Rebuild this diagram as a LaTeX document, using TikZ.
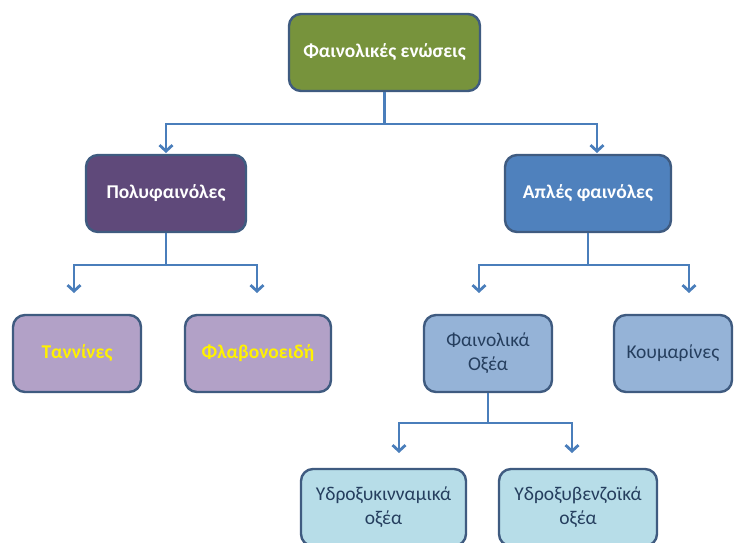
\documentclass[tikz,border=0pt]{standalone}
\usepackage{fontspec}
\setmainfont{Carlito}
\usetikzlibrary{arrows.meta}
\definecolor{rim}{HTML}{3F5B80}
\definecolor{wire}{HTML}{4A7EBB}
\definecolor{olive}{HTML}{77933C}
\definecolor{plum}{HTML}{5F497A}
\definecolor{steel}{HTML}{4F81BD}
\definecolor{lilac}{HTML}{B2A1C7}
\definecolor{sky}{HTML}{95B3D7}
\definecolor{ice}{HTML}{B7DDE8}
\definecolor{ink}{HTML}{253E5E}
\begin{document}
\begin{tikzpicture}[x=1pt,y=1pt,
  box/.style={draw=rim,line width=2.4pt,rounded corners=12pt,inner sep=0pt,
    minimum height=77pt,align=center,font=\fontsize{19.5}{24}\selectfont},
  lvlA/.style={box,fill=#1,text=white,font=\fontsize{19.5}{24}\selectfont\bfseries},
  lvlB/.style={box,fill=lilac,text=yellow,font=\fontsize{19.5}{24}\selectfont\bfseries},
  lvlC/.style={box,fill=#1,text=ink},
  link/.style={draw=wire,line width=2.8pt,-{Straight Barb[length=6pt,width=13pt]}}]
\clip (0,0) rectangle (734,542);
%% nodes
\node[lvlA=olive,minimum width=191pt] (top) at (384.5,489.5) {Φαινολικές ενώσεις};
\node[lvlA=plum,minimum width=160pt] (poly) at (166,348.5) {Πολυφαινόλες};
\node[lvlA=steel,minimum width=166pt] (aples) at (588,348.5) {Απλές φαινόλες};
\node[lvlB,minimum width=128pt] (tann) at (77,188.5) {Ταννίνες};
\node[lvlB,minimum width=146pt] (flav) at (258,188.5) {Φλαβονοειδή};
\node[lvlC=sky,minimum width=128pt] (fox) at (488,188.5) {Φαινολικά\\Οξέα};
\node[lvlC=sky,minimum width=118pt] (koum) at (673,188.5) {Κουμαρίνες};
\node[lvlC=ice,minimum width=165pt] (ykin) at (383.5,34.5) {Υδροξυκινναμικά\\οξέα};
\node[lvlC=ice,minimum width=158pt] (ybenz) at (578,34.5) {Υδροξυβενζοϊκά\\οξέα};
%% arrow tips
\coordinate (tPoly) at (166,389);
\coordinate (tAples) at (597,389);
\coordinate (tTann) at (74,249);
\coordinate (tFlav) at (257,249);
\coordinate (tFox) at (479,249);
\coordinate (tKoum) at (689,249);
\coordinate (tYkin) at (399,89);
\coordinate (tYbenz) at (572,89);
%%% edges
\draw[link] (top.south) |- (tPoly |- 0,418) -- (tPoly);
\draw[link] (top.south) |- (tAples |- 0,418) -- (tAples);
\draw[link] (poly.south) |- (tTann |- 0,277) -- (tTann);
\draw[link] (poly.south) |- (tFlav |- 0,277) -- (tFlav);
\draw[link] (aples.south) |- (tFox |- 0,277) -- (tFox);
\draw[link] (aples.south) |- (tKoum |- 0,277) -- (tKoum);
\draw[link] (fox.south) |- (tYkin |- 0,119) -- (tYkin);
\draw[link] (fox.south) |- (tYbenz |- 0,119) -- (tYbenz);
\end{tikzpicture}
\end{document}
